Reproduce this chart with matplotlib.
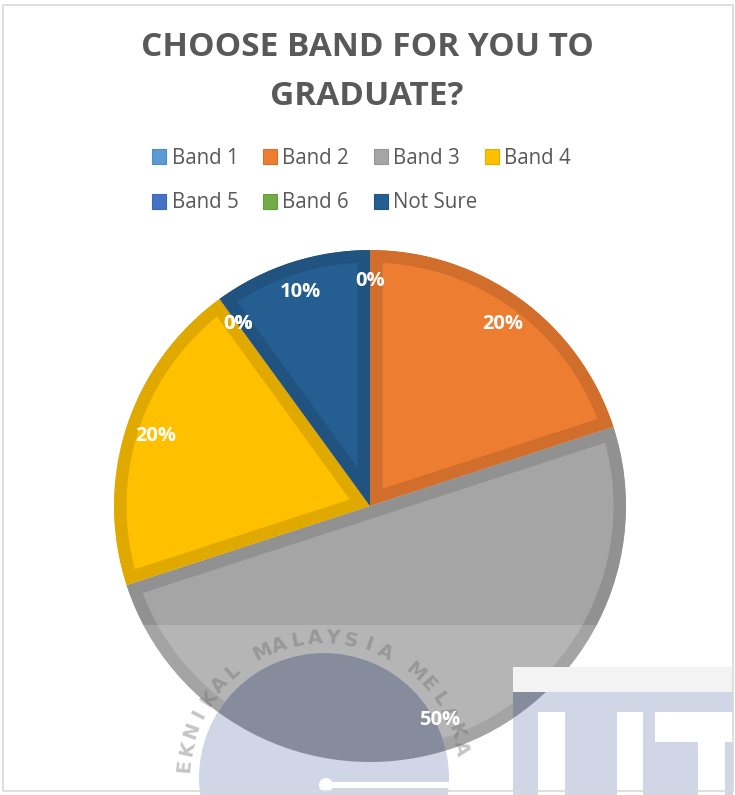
import numpy as np
import matplotlib
matplotlib.use("Agg")
import matplotlib.pyplot as plt
from matplotlib.patches import Circle, Rectangle, Patch, Wedge


# survey answers: which band is needed to graduate
bands = ["Band 1", "Band 2", "Band 3", "Band 4", "Band 5", "Band 6", "Not Sure"]
shares = [0, 20, 50, 20, 0, 0, 10]
colors = ["#5B9BD5", "#ED7D31", "#A5A5A5", "#FFC000", "#4472C4", "#70AD47", "#255E91"]
title = "CHOOSE BAND FOR YOU TO\nGRADUATE?"

W, H = 735, 795
TEXT_GREY = "#595959"
FONT = "Open Sans"


def darker(c, f=0.88):
    r, g, b = matplotlib.colors.to_rgb(c)
    return (r * f, g * f, b * f)


def Y(y):
    # pixel rows are counted from the top
    return H - y


fig = plt.figure(figsize=(W / 100, H / 100), dpi=100)
ax = fig.add_axes([0, 0, 1, 1])

# ---------------------------------------------------------------------------
# Pie
# ---------------------------------------------------------------------------
cx, cy, R = 370, Y(506), 256
wedges, _, autotexts = ax.pie(
    shares,
    colors=colors,
    startangle=90,
    counterclock=False,
    center=(cx, cy),
    radius=R,
    autopct=lambda p: f"{p:.0f}%",
    pctdistance=0.88,
    wedgeprops=dict(linewidth=18),
    textprops=dict(color="white", fontsize=14.5, fontweight="bold", family=FONT),
)
ax.set_xlim(0, W)
ax.set_ylim(0, H)
ax.set_aspect("equal")
ax.axis("off")

for w, c in zip(wedges, colors):
    # stroke clipped to a copy of the wedge -> darker border on the inside only
    w.set_edgecolor(darker(c))
    if w.theta1 == w.theta2:
        w.set_visible(False)
        continue
    clip = Wedge(w.center, w.r, w.theta1, w.theta2, transform=ax.transData)
    w.set_clip_path(clip)
    w.set_clip_on(True)
for t in autotexts:
    t.set_zorder(20)

# ---------------------------------------------------------------------------
# Title and legend
# ---------------------------------------------------------------------------
ax.text(367, Y(72), title, ha="center", va="center", fontsize=24,
        fontweight="bold", color=TEXT_GREY, family=FONT, linespacing=1.62)

handles = [Patch(facecolor=c, edgecolor=darker(c, 0.9), linewidth=0.8) for c in colors]
legend_kw = dict(frameon=False, labelcolor=TEXT_GREY, borderpad=0, borderaxespad=0,
                 handlelength=0.7, handleheight=0.7, handletextpad=0.25,
                 columnspacing=1.2, loc="center left",
                 prop=dict(family=FONT, size=14.8), bbox_transform=ax.transData)
row1 = ax.legend(handles[:4], bands[:4], ncol=4, bbox_to_anchor=(152, Y(158)), **legend_kw)
ax.add_artist(row1)
ax.legend(handles[4:], bands[4:], ncol=3, bbox_to_anchor=(152, Y(203)), **legend_kw)

# ---------------------------------------------------------------------------
# University watermark stamped over the lower part of the page
# ---------------------------------------------------------------------------
pie_clip = Circle((cx, cy), R, transform=ax.transData)
LAV_LIGHT, LAV_DARK = "#D1D6E6", "#878C9C"

ax.add_patch(Rectangle((0, Y(795)), W, 795 - 625, facecolor="white",
                       alpha=0.18, linewidth=0, zorder=5))

ax.add_patch(Rectangle((513, Y(692)), 220, 25, facecolor="#F3F3F3",
                       linewidth=0, zorder=6))

disk_c, disk_r = (324, Y(778)), 125
for col, clip in [(LAV_LIGHT, None), (LAV_DARK, pie_clip)]:
    disk = Circle(disk_c, disk_r, facecolor=col, linewidth=0, zorder=7)
    block = Rectangle((513, Y(795)), 220, 795 - 692, facecolor=col,
                      linewidth=0, zorder=7)
    for p in (disk, block):
        ax.add_patch(p)
        if clip is not None:
            p.set_clip_path(clip)

# letter cut-outs in the block
for x0, y0, x1, y1 in [(538, 712, 565, 795), (617, 712, 643, 795),
                       (655, 712, 735, 742), (698, 742, 725, 795)]:
    ax.add_patch(Rectangle((x0, Y(y1)), x1 - x0, y1 - y0, facecolor="white",
                           linewidth=0, zorder=8))

# key-shaped bar inside the disk
ax.add_patch(Rectangle((324, Y(788)), 146, 6, facecolor="white", linewidth=0, zorder=8))
ax.add_patch(Circle((326, Y(785)), 7, facecolor="white", linewidth=0, zorder=8))

# curved university name round the disk (letters below the frame are left out)
ring = "UNIVERSITI TEKNIKAL MALAYSIA MELAKA"
step = 7.4
mid = ring.index("MALAYSIA") + 3.5
for i, ch in enumerate(ring):
    a = 90 - (i - mid) * step
    x = disk_c[0] + 140 * np.cos(np.radians(a))
    y = disk_c[1] + 140 * np.sin(np.radians(a))
    if ch == " " or y < Y(778):
        continue
    ax.text(x, y, ch, rotation=a - 90, ha="center", va="center", fontsize=14,
            fontweight="bold", color="#6E6E6E", alpha=0.4, zorder=9,
            family="DejaVu Sans", rotation_mode="anchor")

# chart frame
ax.add_patch(Rectangle((3, Y(791)), 730, 786, facecolor="none",
                       edgecolor="#D9D9D9", linewidth=1.2, zorder=30))

fig.savefig("out.png", dpi=100)
